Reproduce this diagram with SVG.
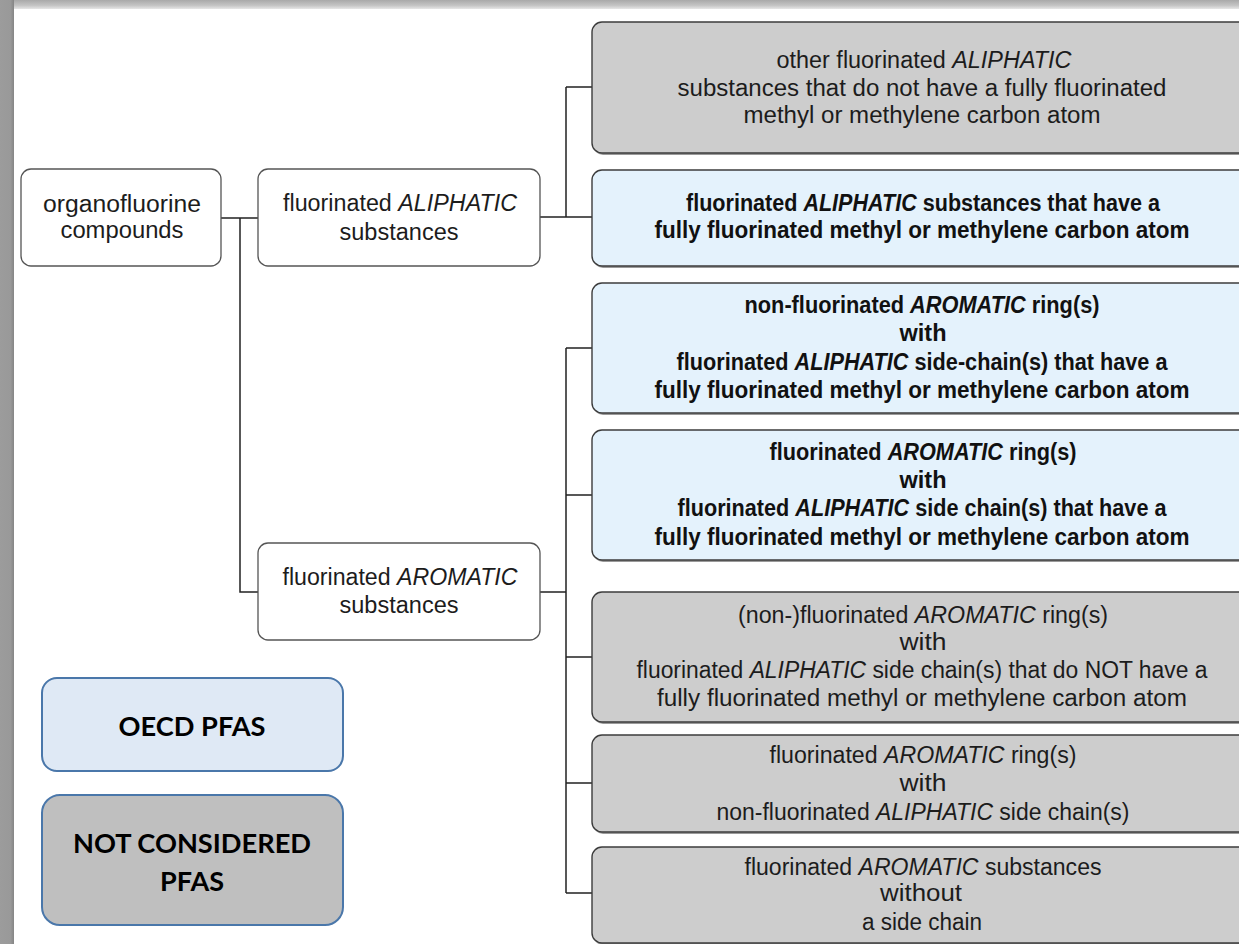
<svg xmlns="http://www.w3.org/2000/svg" width="1239" height="944" viewBox="0 0 1239 944">
<defs>
<linearGradient id="gTop" x1="0" y1="0" x2="0" y2="1">
<stop offset="0" stop-color="#a9a9a9"/><stop offset="0.6" stop-color="#c4c4c4"/><stop offset="1" stop-color="#e6e6e6"/>
</linearGradient>
<linearGradient id="gLeft" x1="0" y1="0" x2="1" y2="0">
<stop offset="0" stop-color="#9c9c9c"/><stop offset="0.75" stop-color="#999"/><stop offset="1" stop-color="#858585"/>
</linearGradient>
</defs>
<style>
.t{font-family:"Liberation Sans",Arial,sans-serif;font-size:23px;fill:#1c1c1c;text-anchor:middle}
.b{font-weight:bold;fill:#111}
.i{font-style:italic}
.box{stroke:#3c3c3c;stroke-width:1.4}
.sh{fill:#9a9a9a}
.wh{fill:#fff;stroke:#555;stroke-width:1.3}
.gr{fill:#cdcdcd}
.bl{fill:#e4f2fc}
.conn{fill:none;stroke:#222;stroke-width:1.5}
.leg{stroke:#4a77aa;stroke-width:2}
.lt{font-family:Lato,"Open Sans","Liberation Sans",sans-serif;font-weight:bold;font-size:27px;fill:#000;text-anchor:middle}
</style>
<rect x="0" y="0" width="1239" height="944" fill="#fff"/>
<rect x="14" y="0" width="1225" height="9" fill="url(#gTop)"/>
<rect x="0" y="0" width="14" height="944" fill="url(#gLeft)"/>

<g id="connectors">
<path class="conn" d="M221 218H258M240 218V592H258"/>
<path class="conn" d="M540 217H592M566 87V217M566 87H592"/>
<path class="conn" d="M540 592H566M566 348V893M566 348H592M566 495H592M566 657H592M566 783H592M566 893H592"/>
</g>

<g id="n-organofluorine">
<rect class="wh" x="21" y="169" width="200" height="97" rx="10"/>
<text class="t" x="122" y="212" textLength="158" lengthAdjust="spacingAndGlyphs">organofluorine</text>
<text class="t" x="122" y="238" textLength="123" lengthAdjust="spacingAndGlyphs">compounds</text>
</g>

<g id="n-aliphatic">
<rect class="wh" x="258" y="169" width="282" height="97" rx="10"/>
<text class="t" x="400" y="211" textLength="234" lengthAdjust="spacingAndGlyphs">fluorinated <tspan class="i">ALIPHATIC</tspan></text>
<text class="t" x="399" y="240" textLength="119" lengthAdjust="spacingAndGlyphs">substances</text>
</g>

<g id="n-aromatic">
<rect class="wh" x="258" y="543" width="282" height="97" rx="10"/>
<text class="t" x="400" y="585" textLength="235" lengthAdjust="spacingAndGlyphs">fluorinated <tspan class="i">AROMATIC</tspan></text>
<text class="t" x="399" y="613" textLength="119" lengthAdjust="spacingAndGlyphs">substances</text>
</g>

<g id="n-other-aliphatic">
<rect class="sh" x="593" y="24" width="660" height="131" rx="10"/>
<rect class="box gr" x="592" y="22" width="660" height="131" rx="10"/>
<text class="t" x="924" y="68" textLength="295" lengthAdjust="spacingAndGlyphs">other fluorinated <tspan class="i">ALIPHATIC</tspan></text>
<text class="t" x="922" y="96" textLength="489" lengthAdjust="spacingAndGlyphs">substances that do not have a fully fluorinated</text>
<text class="t" x="922" y="123" textLength="357" lengthAdjust="spacingAndGlyphs">methyl or methylene carbon atom</text>
</g>

<g id="n-aliphatic-pfas">
<rect class="sh" x="593" y="172" width="660" height="96" rx="10"/>
<rect class="box bl" x="592" y="170" width="660" height="96" rx="10"/>
<text class="t b" x="923" y="211" textLength="474" lengthAdjust="spacingAndGlyphs">fluorinated <tspan class="i">ALIPHATIC</tspan> substances that have a</text>
<text class="t b" x="922" y="238" textLength="535" lengthAdjust="spacingAndGlyphs">fully fluorinated methyl or methylene carbon atom</text>
</g>

<g id="n-nonfluoro-ring">
<rect class="sh" x="593" y="285" width="660" height="130" rx="10"/>
<rect class="box bl" x="592" y="283" width="660" height="130" rx="10"/>
<text class="t b" x="922" y="313" textLength="355" lengthAdjust="spacingAndGlyphs">non-fluorinated <tspan class="i">AROMATIC</tspan> ring(s)</text>
<text class="t b" x="923" y="341" textLength="47" lengthAdjust="spacingAndGlyphs">with</text>
<text class="t b" x="922" y="370" textLength="491" lengthAdjust="spacingAndGlyphs">fluorinated <tspan class="i">ALIPHATIC</tspan> side-chain(s) that have a</text>
<text class="t b" x="922" y="398" textLength="535" lengthAdjust="spacingAndGlyphs">fully fluorinated methyl or methylene carbon atom</text>
</g>

<g id="n-fluoro-ring">
<rect class="sh" x="593" y="432" width="660" height="130" rx="10"/>
<rect class="box bl" x="592" y="430" width="660" height="130" rx="10"/>
<text class="t b" x="923" y="460" textLength="307" lengthAdjust="spacingAndGlyphs">fluorinated <tspan class="i">AROMATIC</tspan> ring(s)</text>
<text class="t b" x="923" y="488" textLength="47" lengthAdjust="spacingAndGlyphs">with</text>
<text class="t b" x="922" y="516" textLength="489" lengthAdjust="spacingAndGlyphs">fluorinated <tspan class="i">ALIPHATIC</tspan> side chain(s) that have a</text>
<text class="t b" x="922" y="545" textLength="535" lengthAdjust="spacingAndGlyphs">fully fluorinated methyl or methylene carbon atom</text>
</g>

<g id="n-not-fully">
<rect class="sh" x="593" y="594" width="660" height="130" rx="10"/>
<rect class="box gr" x="592" y="592" width="660" height="130" rx="10"/>
<text class="t" x="923" y="623" textLength="370" lengthAdjust="spacingAndGlyphs">(non-)fluorinated <tspan class="i">AROMATIC</tspan> ring(s)</text>
<text class="t" x="923" y="650" textLength="47" lengthAdjust="spacingAndGlyphs">with</text>
<text class="t" x="922" y="678" textLength="571" lengthAdjust="spacingAndGlyphs">fluorinated <tspan class="i">ALIPHATIC</tspan> side chain(s) that do NOT have a</text>
<text class="t" x="922" y="706" textLength="530" lengthAdjust="spacingAndGlyphs">fully fluorinated methyl or methylene carbon atom</text>
</g>

<g id="n-nonfluoro-chain">
<rect class="sh" x="593" y="737" width="660" height="97" rx="10"/>
<rect class="box gr" x="592" y="735" width="660" height="97" rx="10"/>
<text class="t" x="923" y="763" textLength="307" lengthAdjust="spacingAndGlyphs">fluorinated <tspan class="i">AROMATIC</tspan> ring(s)</text>
<text class="t" x="923" y="791" textLength="47" lengthAdjust="spacingAndGlyphs">with</text>
<text class="t" x="923" y="820" textLength="413" lengthAdjust="spacingAndGlyphs">non-fluorinated <tspan class="i">ALIPHATIC</tspan> side chain(s)</text>
</g>

<g id="n-no-chain">
<rect class="sh" x="593" y="849" width="660" height="96" rx="10"/>
<rect class="box gr" x="592" y="847" width="660" height="96" rx="10"/>
<text class="t" x="923" y="875" textLength="357" lengthAdjust="spacingAndGlyphs">fluorinated <tspan class="i">AROMATIC</tspan> substances</text>
<text class="t" x="921" y="901" textLength="82" lengthAdjust="spacingAndGlyphs">without</text>
<text class="t" x="922" y="930" textLength="120" lengthAdjust="spacingAndGlyphs">a side chain</text>
</g>

<g id="legend-oecd">
<rect class="leg" x="42" y="678" width="301" height="93" rx="15" fill="#dfe9f5"/>
<text class="lt" x="192" y="736" textLength="147" lengthAdjust="spacingAndGlyphs">OECD PFAS</text>
</g>

<g id="legend-not">
<rect class="leg" x="42" y="795" width="301" height="130" rx="18" fill="#bfbfbf"/>
<text class="lt" x="192" y="853" textLength="238" lengthAdjust="spacingAndGlyphs">NOT CONSIDERED</text>
<text class="lt" x="192" y="891" textLength="64" lengthAdjust="spacingAndGlyphs">PFAS</text>
</g>
</svg>
